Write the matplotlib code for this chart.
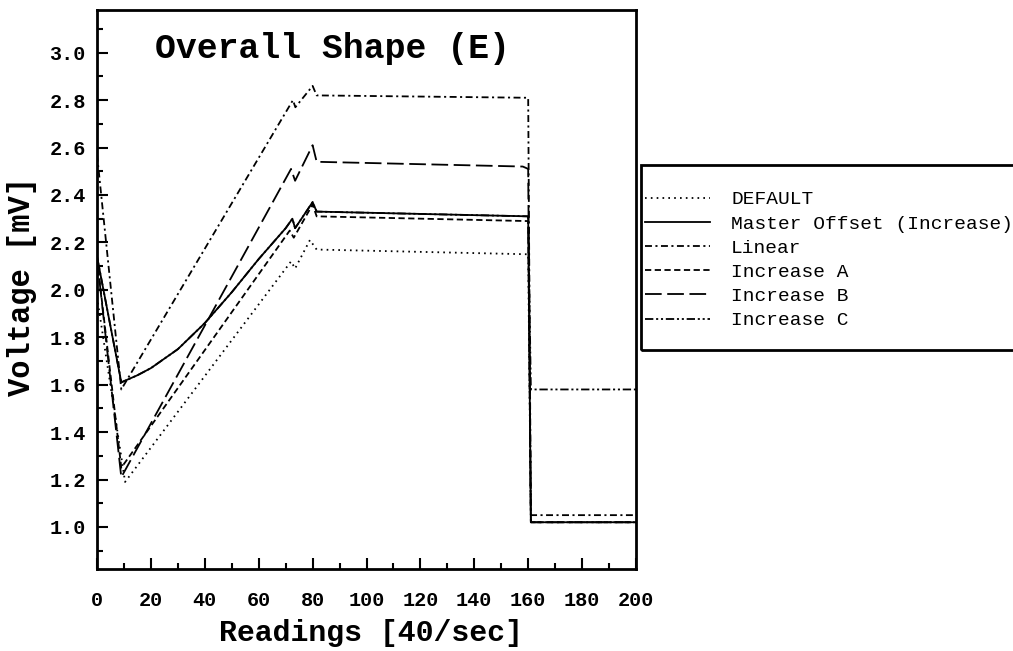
import matplotlib
matplotlib.use("Agg")
import matplotlib.pyplot as plt
from matplotlib.ticker import MultipleLocator
from matplotlib.patches import Rectangle

# readings (x) and voltages (y) for each curve
default_x = [0, 10.4, 72, 73.5, 79, 81.5, 160, 161, 200]
default_y = [1.97, 1.19, 2.12, 2.09, 2.21, 2.17, 2.15, 1.02, 1.02]

master_x = [0, 9, 15, 20, 30, 40, 50, 60, 70, 72.5, 73.5, 80, 81.5, 160, 161, 200]
master_y = [2.14, 1.61, 1.64, 1.67, 1.75, 1.86, 1.99, 2.13, 2.26, 2.30, 2.26, 2.37, 2.33, 2.31, 1.02, 1.02]

linear_x = [0, 9, 72.7, 73.6, 80, 81.5, 160, 161, 200]
linear_y = [2.57, 1.58, 2.80, 2.77, 2.86, 2.82, 2.81, 1.05, 1.05]

inc_a_x = [0, 9, 71.5, 73, 80, 81.5, 160, 161, 200]
inc_a_y = [2.13, 1.25, 2.25, 2.22, 2.36, 2.31, 2.29, 1.02, 1.02]

inc_b_x = [0, 9, 72, 73.5, 80, 81.5, 158, 160, 161, 200]
inc_b_y = [2.13, 1.21, 2.51, 2.46, 2.61, 2.54, 2.52, 2.51, 1.02, 1.02]

inc_c_x = [0, 9, 15, 20, 30, 40, 50, 60, 70, 72.5, 73.5, 80, 81.5, 160, 161, 200]
inc_c_y = [2.14, 1.61, 1.64, 1.67, 1.75, 1.86, 1.99, 2.13, 2.26, 2.30, 2.26, 2.37, 2.33, 2.31, 1.58, 1.58]

labels = ["DEFAULT", "Master Offset (Increase)", "Linear",
          "Increase A", "Increase B", "Increase C"]

plt.rcParams['font.family'] = ['Liberation Mono', 'DejaVu Sans Mono']
plt.rcParams['lines.scale_dashes'] = False

fig = plt.figure(figsize=(10.13, 6.51), dpi=100)
ax = fig.add_axes([0.0958, 0.126, 0.532, 0.8586])

lw = 1.3
ax.plot(inc_c_x, inc_c_y, color='black', lw=lw, linestyle=(0, (6, 2, 1.5, 2, 1.5, 2)), zorder=1)
ax.plot(default_x, default_y, color='black', lw=lw, linestyle=(0, (1.2, 3)), zorder=2)
ax.plot(inc_a_x, inc_a_y, color='black', lw=lw, linestyle=(0, (4.5, 2.5)), zorder=2)
ax.plot(inc_b_x, inc_b_y, color='black', lw=lw, linestyle=(0, (12, 4)), zorder=2)
ax.plot(linear_x, linear_y, color='black', lw=lw, linestyle=(0, (5, 2.5, 1.5, 2.5)), zorder=2)
ax.plot(master_x, master_y, color='black', lw=lw, linestyle='-', zorder=3)

lines = ax.get_lines()
order = [1, 5, 4, 2, 3, 0]
handles = [lines[i] for i in order]

ax.set_xlim(0, 200)
ax.set_ylim(0.823, 3.18)
ax.xaxis.set_major_locator(MultipleLocator(20))
ax.xaxis.set_minor_locator(MultipleLocator(10))
ax.yaxis.set_minor_locator(MultipleLocator(0.1))
ax.set_yticks([1.0, 1.2, 1.4, 1.6, 1.8, 2.0, 2.2, 2.4, 2.6, 2.8, 3.0])
ax.tick_params(which='both', direction='in', top=False, right=False, width=1.5)
ax.tick_params(which='major', length=8)
ax.tick_params(which='minor', length=4)
ax.tick_params(axis='x', pad=16)
ax.tick_params(axis='y', pad=8)
for lab in ax.get_xticklabels() + ax.get_yticklabels():
    lab.set_fontsize(14.5)
    lab.set_fontweight('bold')
for s in ax.spines.values():
    s.set_linewidth(2)

fig.text(0.022, 0.56, "Voltage [mV]", rotation=90, ha='center', va='center',
         fontsize=22, fontweight='bold')
fig.text(0.366, 0.028, "Readings [40/sec]", ha='center', va='center',
         fontsize=21.5, fontweight='bold')
fig.text(0.328, 0.926, "Overall Shape (E)", ha='center', va='center',
         fontsize=25, fontweight='bold')

# legend box, partly running off the right edge like the original
fig.patches.append(Rectangle((0.6328, 0.4624), 0.4, 0.284, transform=fig.transFigure,
                             fill=False, edgecolor='black', linewidth=2, clip_on=False))
leg = fig.legend(handles, labels, loc='upper left', bbox_to_anchor=(0.6367, 0.707),
                 fontsize=14, handlelength=3.35, handletextpad=1.08,
                 labelspacing=0.34, borderpad=0, borderaxespad=0, frameon=False)

fig.savefig("out.png", dpi=100)
